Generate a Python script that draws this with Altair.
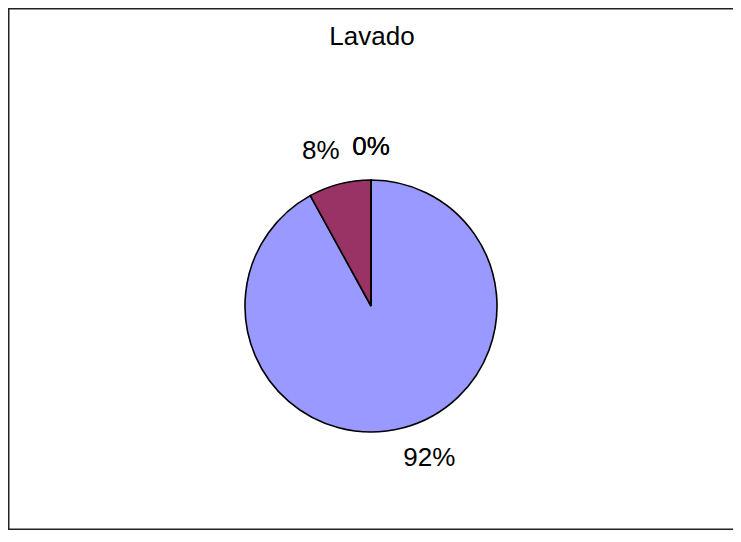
import altair as alt
import pandas as pd

# ---- data ----
title_text = "Lavado"
categories = ["Sí", "No", "NS", "NC"]
values = [92, 8, 0, 0]
order = [1, 2, 3, 4]
colors = ["#9999FF", "#993366", "#FFFFCC", "#CCFFFF"]

df = pd.DataFrame({"cat": categories, "value": values, "orden": order})

W, H = 725, 522
CX, CY = 363, 298  # pie centre (layout)
R = 126
LR = 162

base = alt.Chart(df).encode(
    x=alt.value(CX),
    y=alt.value(CY),
)

pie = base.mark_arc(stroke="black", strokeWidth=1.6, radius=R).encode(
    theta=alt.Theta("value:Q", stack=True),
    color=alt.Color("cat:N", scale=alt.Scale(domain=categories, range=colors), legend=None),
    order=alt.Order("orden:Q"),
)

lab = base.transform_joinaggregate(
    total="sum(value)"
).transform_window(
    cum="sum(value)", sort=[alt.SortField("orden")], frame=[None, 0]
).transform_calculate(
    mid="(datum.cum - datum.value/2)/datum.total",
    pct="datum.value/datum.total",
)

def label_layer(cond, dx, dy):
    return lab.transform_filter(cond).mark_text(
        font="Liberation Sans", fontSize=26, color="black",
        align="center", baseline="middle", radius=LR, dx=dx, dy=dy,
    ).encode(
        theta=alt.Theta("mid:Q", scale=alt.Scale(domain=[0, 1], range=[0, 6.283185307179586])),
        text=alt.Text("pct:Q", format=".0%"),
    )

right_lab = label_layer("datum.mid > 0 && datum.mid < 0.5", 18, -5)
left_lab = label_layer("datum.mid >= 0.5 && datum.mid < 0.999", -10, 2)
top_lab = label_layer("datum.mid >= 0.999", 0, 3)
labels = alt.layer(right_lab, left_lab, top_lab)

title = alt.Chart(pd.DataFrame({"t": [title_text]})).mark_text(
    font="Liberation Sans", fontSize=26, color="black", align="center", baseline="alphabetic"
).encode(text="t:N", x=alt.value(CX + 1), y=alt.value(37))

# chart frame (left, top, bottom edges; the right edge lies outside the window)
frame_df = pd.DataFrame({"t": [title_text]})
fr = alt.Chart(frame_df).mark_rule(color="#222222", strokeWidth=1.5)
frame = alt.layer(
    fr.encode(x=alt.value(0.75), y=alt.value(0), y2=alt.value(H)),
    fr.encode(x=alt.value(0), x2=alt.value(W), y=alt.value(0.75)),
    fr.encode(x=alt.value(0), x2=alt.value(W), y=alt.value(H - 0.75)),
)

chart = alt.layer(frame, pie, labels, title).resolve_scale(theta="independent").properties(
    width=W, height=H,
    autosize=alt.AutoSizeParams(type="none"),
    padding=0,
    background="white",
).configure_view(stroke="transparent", strokeWidth=0)

chart.save("out.html", embed_options={"renderer": "svg", "actions": False})
